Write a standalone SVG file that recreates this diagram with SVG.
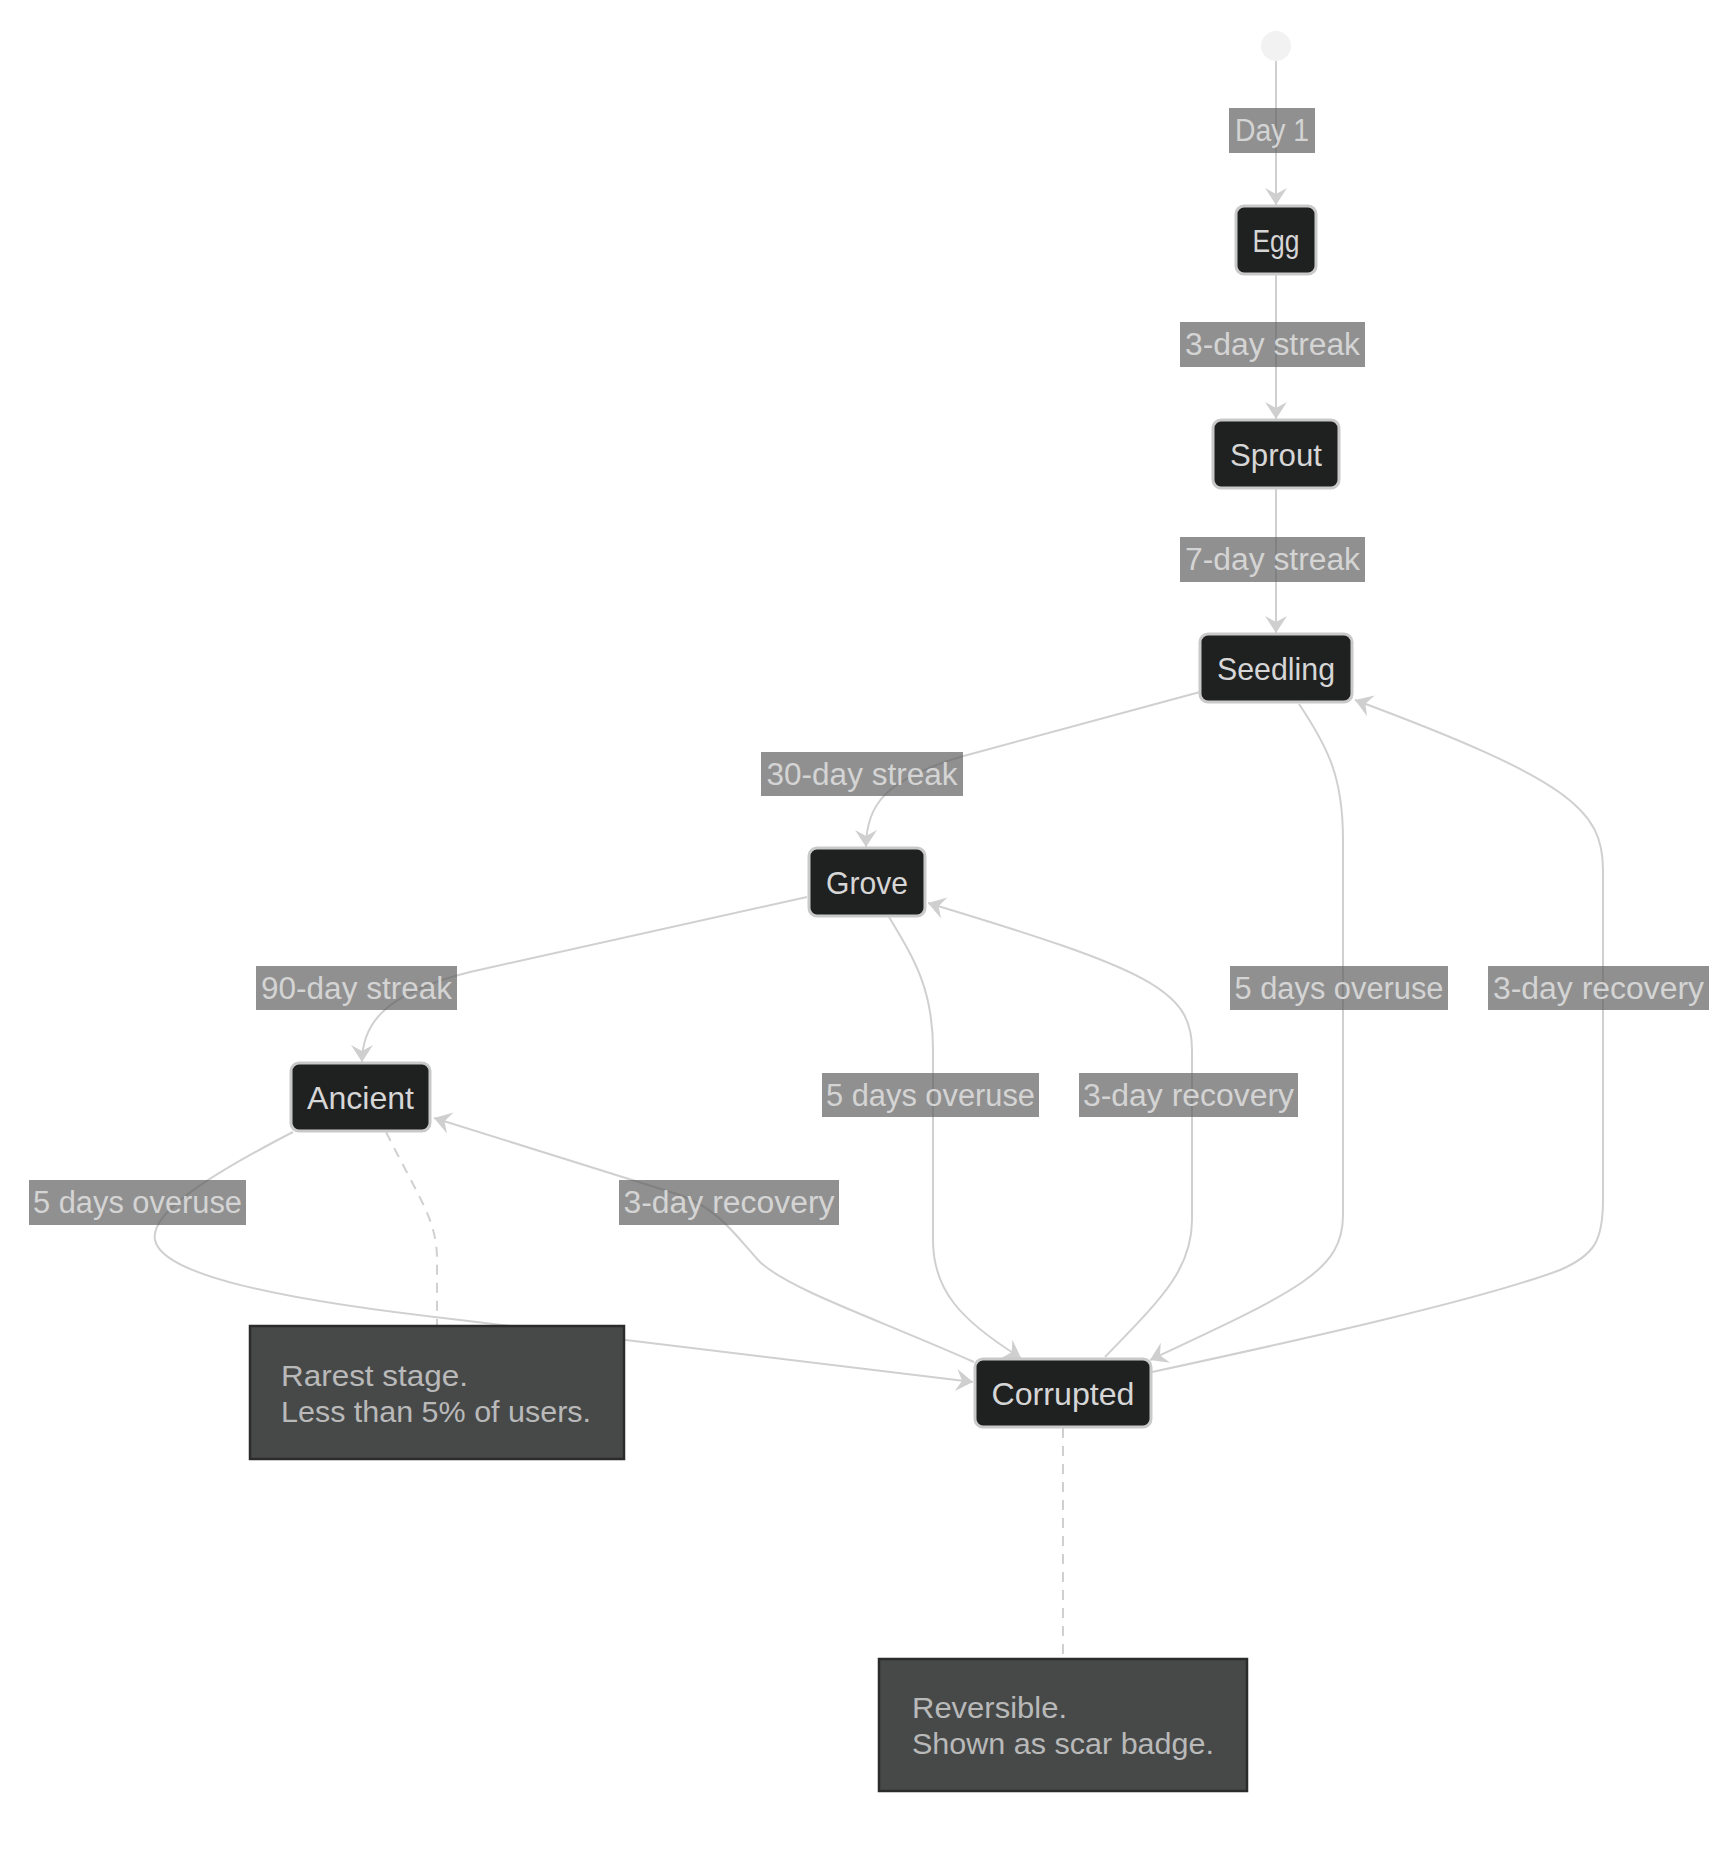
<svg xmlns="http://www.w3.org/2000/svg" width="1726" height="1858" viewBox="0 0 1726 1858">
<style>
  .edge{fill:none;stroke:#d0d0d0;stroke-width:2}
  .dash{fill:none;stroke:#d0d0d0;stroke-width:2;stroke-dasharray:10 8}
  .node rect{fill:#1f2020;stroke:#c9c9c9;stroke-width:3}
  .node text{fill:#d6d6d6;font-family:"Liberation Sans",Arial,sans-serif;font-size:32px;text-anchor:middle}
  .lbl rect{fill:#5a5a5a;fill-opacity:0.67}
  .lbl text{fill:#d4d4d4;font-family:"Liberation Sans",Arial,sans-serif;font-size:31px;text-anchor:middle}
  .note rect{fill:#474949;stroke:#2b2b2b;stroke-width:2.5}
  .note text{fill:#b9b9b9;font-family:"Liberation Sans",Arial,sans-serif;font-size:29px}
</style>
<defs>
  <marker id="arr" markerUnits="userSpaceOnUse" markerWidth="22" markerHeight="26" viewBox="-19 -13 21 26" refX="0" refY="0" orient="auto">
    <path d="M0,0 L-17,-11 L-11,0 L-17,11 Z" fill="#cfcfcf"/>
  </marker>
</defs>
<rect width="1726" height="1858" fill="#ffffff"/>

<g id="connectors">
  <path class="edge" d="M1276,61 L1276,205" marker-end="url(#arr)"/>
  <path class="edge" d="M1276,275 L1276,419" marker-end="url(#arr)"/>
  <path class="edge" d="M1276,489 L1276,633" marker-end="url(#arr)"/>
  <path class="edge" d="M1200,692 L960,757 C885,780 866,805 866,847" marker-end="url(#arr)"/>
  <path class="edge" d="M807,897 L470,972 C390,992 362,1020 362,1062" marker-end="url(#arr)"/>
  <path class="edge" d="M1299,704 C1330,750 1343,780 1343,840 L1343,1215 C1343,1270 1300,1290 1150,1360" marker-end="url(#arr)"/>
  <path class="edge" d="M1152,1372 C1300,1340 1480,1300 1560,1270 C1595,1255 1603,1240 1603,1200 L1603,870 C1603,810 1570,780 1355,700" marker-end="url(#arr)"/>
  <path class="edge" d="M889,917 C915,960 933,990 933,1050 L933,1240 C933,1290 960,1320 1021,1358" marker-end="url(#arr)"/>
  <path class="edge" d="M1105,1357 C1160,1300 1192,1270 1192,1220 L1192,1050 C1192,990 1150,970 928,903" marker-end="url(#arr)"/>
  <path class="edge" d="M293,1132 C200,1180 150,1215 155,1240 C162,1275 280,1300 460,1320 L973,1382" marker-end="url(#arr)"/>
  <path class="edge" d="M974,1362 C880,1320 790,1290 760,1262 C735,1235 720,1210 680,1195 L434,1118" marker-end="url(#arr)"/>
  <path class="dash" d="M386,1132 C420,1200 437,1220 437,1260 L437,1326"/>
  <path class="dash" d="M1063,1428 L1063,1659"/>
</g>

<g id="start"><circle cx="1276" cy="46" r="15" fill="#f2f2f2"/></g>

<g id="edge-labels">
  <g class="lbl"><rect x="1229" y="108" width="86" height="45"/><text x="1272" y="141" textLength="74" lengthAdjust="spacingAndGlyphs">Day 1</text></g>
  <g class="lbl"><rect x="1180" y="322" width="185" height="45"/><text x="1272.5" y="355" textLength="175" lengthAdjust="spacingAndGlyphs">3-day streak</text></g>
  <g class="lbl"><rect x="1180" y="537" width="185" height="45"/><text x="1272.5" y="570" textLength="175" lengthAdjust="spacingAndGlyphs">7-day streak</text></g>
  <g class="lbl"><rect x="761" y="752" width="202" height="44"/><text x="862" y="785" textLength="191" lengthAdjust="spacingAndGlyphs">30-day streak</text></g>
  <g class="lbl"><rect x="256" y="966" width="201" height="44"/><text x="356.5" y="999" textLength="191" lengthAdjust="spacingAndGlyphs">90-day streak</text></g>
  <g class="lbl"><rect x="1230" y="966" width="218" height="44"/><text x="1339" y="999" textLength="209" lengthAdjust="spacingAndGlyphs">5 days overuse</text></g>
  <g class="lbl"><rect x="1488" y="966" width="221" height="44"/><text x="1598.5" y="999" textLength="211" lengthAdjust="spacingAndGlyphs">3-day recovery</text></g>
  <g class="lbl"><rect x="822" y="1073" width="217" height="44"/><text x="930.5" y="1106" textLength="209" lengthAdjust="spacingAndGlyphs">5 days overuse</text></g>
  <g class="lbl"><rect x="1079" y="1073" width="219" height="44"/><text x="1188.5" y="1106" textLength="211" lengthAdjust="spacingAndGlyphs">3-day recovery</text></g>
  <g class="lbl"><rect x="29" y="1180" width="217" height="45"/><text x="137.5" y="1213" textLength="209" lengthAdjust="spacingAndGlyphs">5 days overuse</text></g>
  <g class="lbl"><rect x="619" y="1180" width="220" height="45"/><text x="729" y="1213" textLength="211" lengthAdjust="spacingAndGlyphs">3-day recovery</text></g>
</g>

<g id="node-egg" class="node"><rect x="1236" y="206" width="80" height="68" rx="8"/><text x="1276" y="252" textLength="47" lengthAdjust="spacingAndGlyphs">Egg</text></g>
<g id="node-sprout" class="node"><rect x="1213" y="420" width="126" height="68" rx="8"/><text x="1276" y="466" textLength="92" lengthAdjust="spacingAndGlyphs">Sprout</text></g>
<g id="node-seedling" class="node"><rect x="1200" y="634" width="152" height="68" rx="8"/><text x="1276" y="680" textLength="118" lengthAdjust="spacingAndGlyphs">Seedling</text></g>
<g id="node-grove" class="node"><rect x="809" y="848" width="116" height="68" rx="8"/><text x="867" y="894" textLength="82" lengthAdjust="spacingAndGlyphs">Grove</text></g>
<g id="node-ancient" class="node"><rect x="291" y="1063" width="139" height="68" rx="8"/><text x="360.5" y="1109" textLength="107" lengthAdjust="spacingAndGlyphs">Ancient</text></g>
<g id="node-corrupted" class="node"><rect x="975" y="1359" width="176" height="68" rx="8"/><text x="1063" y="1405" textLength="143" lengthAdjust="spacingAndGlyphs">Corrupted</text></g>

<g id="note-ancient" class="note"><rect x="250" y="1326" width="374" height="133"/>
  <text x="281" y="1386" textLength="187" lengthAdjust="spacingAndGlyphs">Rarest stage.</text>
  <text x="281" y="1422" textLength="310" lengthAdjust="spacingAndGlyphs">Less than 5% of users.</text></g>
<g id="note-corrupted" class="note"><rect x="879" y="1659" width="368" height="132"/>
  <text x="912" y="1718" textLength="155" lengthAdjust="spacingAndGlyphs">Reversible.</text>
  <text x="912" y="1754" textLength="302" lengthAdjust="spacingAndGlyphs">Shown as scar badge.</text></g>
</svg>
